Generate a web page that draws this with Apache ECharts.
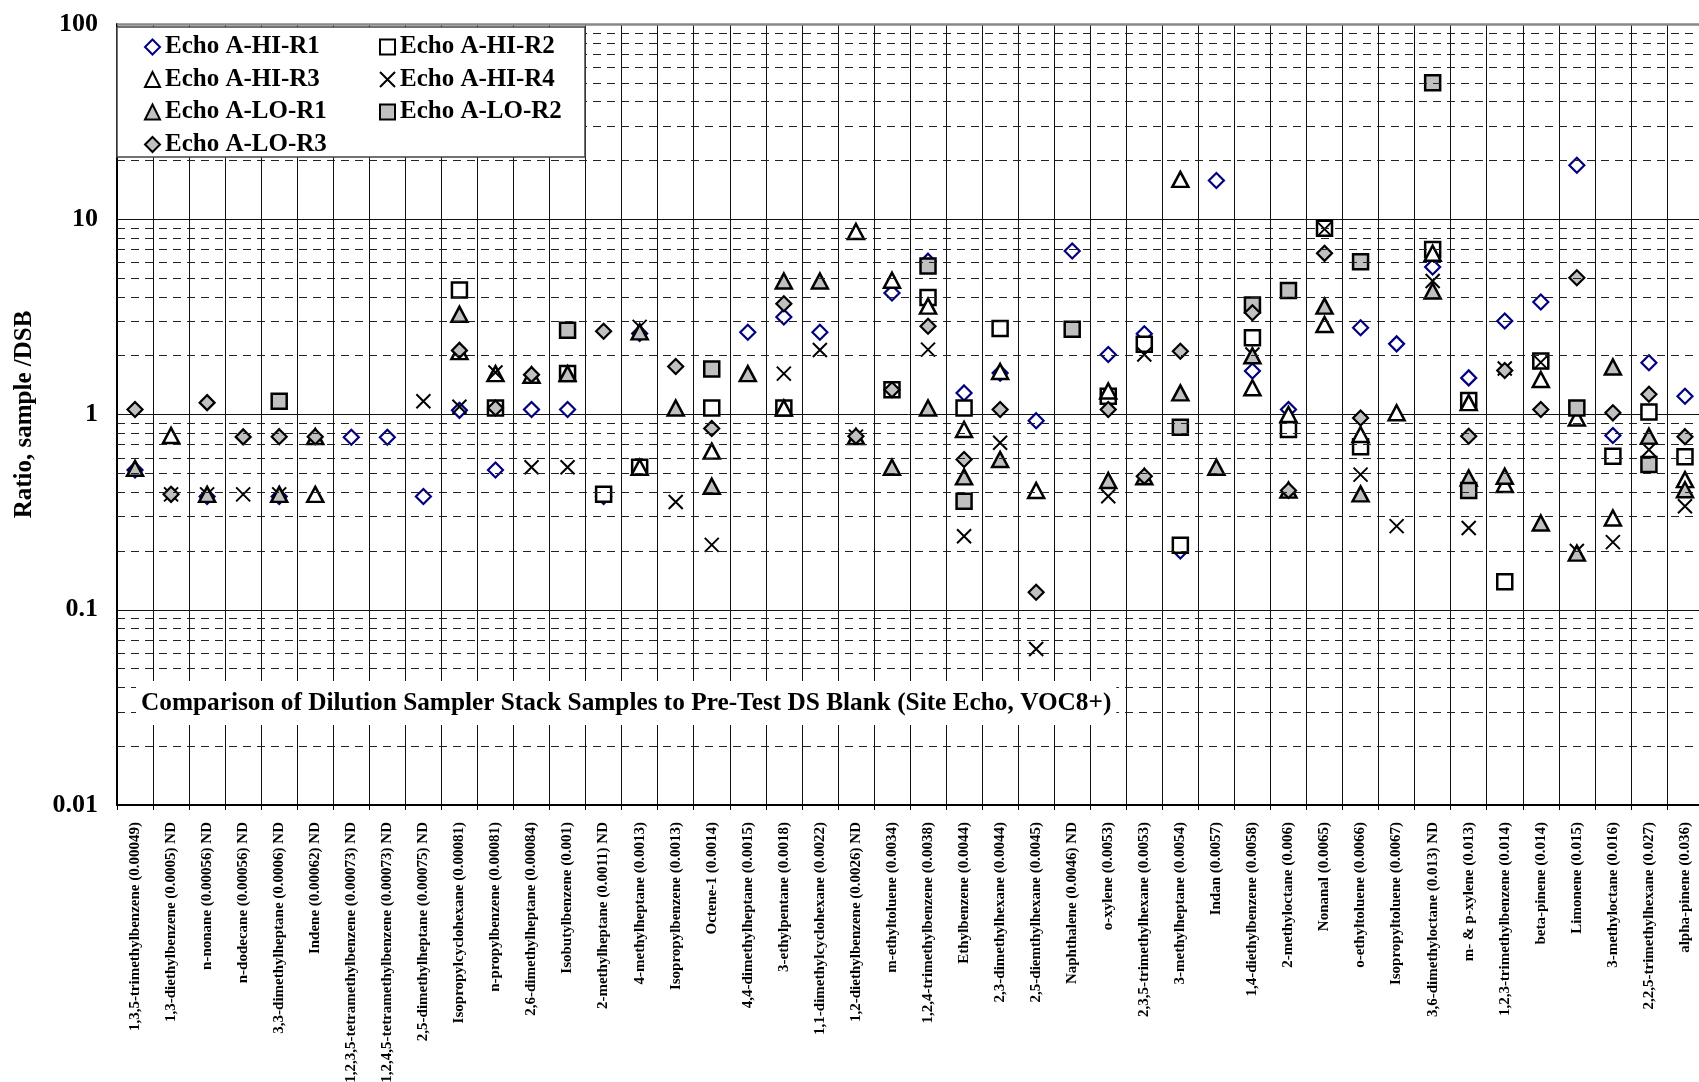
<!DOCTYPE html>
<html>
<head>
<meta charset="utf-8">
<script src="https://cdn.jsdelivr.net/npm/echarts@6/dist/echarts.min.js"></script>
<style>
  html, body { margin: 0; padding: 0; background: #fff; }
  #chart { width: 1699px; height: 1082px; }
</style>
</head>
<body>
<div id="chart"></div>
<script>
// Compounds (with their DSB concentration) along the x axis
const categories = [
  '1,3,5-trimethylbenzene (0.00049)',
  '1,3-diethylbenzene (0.0005) ND',
  'n-nonane (0.00056) ND',
  'n-dodecane (0.00056) ND',
  '3,3-dimethylheptane (0.0006) ND',
  'Indene (0.00062) ND',
  '1,2,3,5-tetramethylbenzene (0.00073) ND',
  '1,2,4,5-tetramethylbenzene (0.00073) ND',
  '2,5-dimethylheptane (0.00075) ND',
  'Isopropylcyclohexane (0.00081)',
  'n-propylbenzene (0.00081)',
  '2,6-dimethylheptane (0.00084)',
  'Isobutylbenzene (0.001)',
  '2-methylheptane (0.0011) ND',
  '4-methylheptane (0.0013)',
  'Isopropylbenzene (0.0013)',
  'Octene-1 (0.0014)',
  '4,4-dimethylheptane (0.0015)',
  '3-ethylpentane (0.0018)',
  '1,1-dimethylcyclohexane (0.0022)',
  '1,2-diethylbenzene (0.0026) ND',
  'm-ethyltoluene (0.0034)',
  '1,2,4-trimethylbenzene (0.0038)',
  'Ethylbenzene (0.0044)',
  '2,3-dimethylhexane (0.0044)',
  '2,5-diemthylhexane (0.0045)',
  'Naphthalene (0.0046) ND',
  'o-xylene (0.0053)',
  '2,3,5-trimethylhexane (0.0053)',
  '3-methylheptane (0.0054)',
  'Indan (0.0057)',
  '1,4-diethylbenzene (0.0058)',
  '2-methyloctane (0.006)',
  'Nonanal (0.0065)',
  'o-ethyltoluene (0.0066)',
  'Isopropyltoluene (0.0067)',
  '3,6-dimethyloctane (0.013) ND',
  'm- & p-xylene (0.013)',
  '1,2,3-trimethylbenzene (0.014)',
  'beta-pinene (0.014)',
  'Limonene (0.015)',
  '3-methyloctane (0.016)',
  '2,2,5-trimethylhexane (0.027)',
  'alpha-pinene (0.036)'
];

// Ratio sample / DSB for each run (null = not plotted)
const hiR1 = [0.52, null, 0.38, null, 0.38, null, 0.765, 0.765, 0.38, 1.05,
  0.52, 1.06, 1.06, 0.38, 2.6, null, null, 2.64, 3.16, 2.64,
  null, 4.19, 6.1, 1.29, 1.63, 0.93, 6.88, 2.03, 2.59, 0.2,
  15.8, 1.67, 1.06, null, 2.78, 2.3, 5.7, 1.54, 3.01, 3.77,
  18.9, 0.78, 1.84, 1.24];
const hiR2 = [null, null, null, null, null, null, null, null, null, 4.34,
  1.08, null, 1.62, 0.39, 0.537, null, 1.08, null, 1.08, null,
  null, 1.34, 3.97, 1.08, 2.76, null, null, 1.24, 2.29, 0.214,
  null, 2.47, 0.838, 9.0, 0.683, null, 7.0, 1.18, 0.139, 1.88,
  null, 0.611, 1.03, 0.607];
const hiR3 = [null, 0.78, null, null, null, 0.39, null, null, null, 2.1,
  1.62, 1.59, null, null, 0.537, null, 0.649, null, 1.08, null,
  8.65, 4.87, 3.59, 0.838, 1.66, 0.408, null, 1.32, null, 16.0,
  null, 1.37, 1.0, 2.89, 0.79, 1.02, 6.7, 1.15, 0.438, 1.51,
  0.96, 0.295, null, 0.464];
const hiR4 = [null, 0.39, 0.39, 0.39, 0.39, null, null, null, 1.17, 1.095,
  1.64, 0.537, 0.537, null, 2.81, 0.356, 0.215, null, 1.62, 2.14,
  0.77, null, 2.15, 0.238, 0.716, 0.063, null, 0.381, 2.03, null,
  null, 2.03, null, 8.9, 0.492, 0.268, 4.83, 0.262, 1.72, 1.85,
  0.2, 0.222, 0.66, 0.339];
const loR1 = [0.53, null, 0.39, null, 0.39, 0.77, null, null, null, 3.26,
  null, null, 1.62, null, 2.65, 1.08, 0.429, 1.62, 4.83, 4.83,
  0.77, 0.537, 1.08, 0.479, 0.588, null, null, 0.459, 0.48, 1.29,
  0.537, 2.0, 0.41, 3.59, 0.392, null, 4.29, 0.473, 0.483, 0.278,
  0.195, 1.75, 0.774, 0.412];
const loR2 = [null, null, null, null, 1.17, null, null, null, null, null,
  null, null, 2.70, null, null, null, 1.71, null, null, null,
  null, null, 5.76, 0.36, null, null, 2.73, null, null, 0.861,
  null, 3.64, 4.32, null, 6.06, null, 50, 0.408, null, null,
  1.08, null, 0.554, null];
const loR3 = [1.06, 0.39, 1.15, 0.768, 0.77, 0.77, null, null, null, 2.13,
  1.08, 1.60, null, 2.67, null, 1.76, 0.848, null, 3.69, null,
  0.774, 1.34, 2.83, 0.588, 1.06, 0.123, null, 1.06, 0.483, 2.11,
  null, 3.32, 0.408, 6.69, 0.96, null, null, 0.774, 1.68, 1.06,
  5.02, 1.02, 1.27, 0.77];

// Log-axis minor gridline positions (dashed)
const minorGrid = [0.02, 0.03, 0.04, 0.05, 0.06, 0.07, 0.08, 0.09,
  0.2, 0.3, 0.4, 0.5, 0.6, 0.7, 0.8, 0.9,
  2, 3, 4, 5, 6, 7, 8, 9,
  20, 30, 40, 50, 60, 70, 80, 90];

const titleText = 'Comparison of Dilution Sampler Stack Samples to Pre-Test DS Blank (Site Echo, VOC8+)';
const FONT = "'Liberation Serif', 'Times New Roman', serif";
const NAVY = '#000080';
const GRAY = '#c0c0c0';
const CROSS = 'path://M0 0L10 10M10 0L0 10';

const toData = arr => arr.map(v => (v == null ? '-' : v));

function scatter(name, data, symbol, size, fill, stroke, width) {
  return {
    name: name,
    type: 'scatter',
    data: toData(data),
    symbol: symbol,
    symbolSize: size,
    z: 3,
    itemStyle: { color: fill, borderColor: stroke, borderWidth: width, opacity: 1 },
    emphasis: { disabled: true }
  };
}

const chart = echarts.init(document.getElementById('chart'), null, { renderer: 'canvas', width: 1699, height: 1082 });

const legendText = { fontFamily: FONT, fontWeight: 'bold', fontSize: 25, color: '#000', lineHeight: 26 };

chart.setOption({
  animation: false,
  backgroundColor: '#fff',
  title: {
    text: titleText,
    left: 136,
    top: 681,
    padding: [9, 5],
    backgroundColor: '#fff',
    z: 60,
    textStyle: { fontFamily: FONT, fontWeight: 'bold', fontSize: 25.3, color: '#000', lineHeight: 26 }
  },
  graphic: [{
    type: 'rect',
    z: 50,
    shape: { x: 117, y: 27, width: 468, height: 130 },
    style: { fill: '#fff', stroke: '#444', lineWidth: 1.5 }
  }],
  legend: [
    {
      data: ['Echo A-HI-R1', 'Echo A-HI-R3', 'Echo A-LO-R1', 'Echo A-LO-R3'],
      orient: 'vertical', left: 144, top: 34, padding: 0,
      itemWidth: 15, itemHeight: 15, itemGap: 6.5, z: 60,
      selectedMode: false, textStyle: legendText
    },
    {
      data: ['Echo A-HI-R2', 'Echo A-HI-R4', 'Echo A-LO-R2'],
      orient: 'vertical', left: 379, top: 34, padding: 0,
      itemWidth: 15, itemHeight: 15, itemGap: 6.5, z: 60,
      selectedMode: false, textStyle: legendText
    }
  ],
  grid: { left: 117, right: -4, top: 24, height: 781, containLabel: false, outerBoundsMode: 'none' },
  xAxis: {
    type: 'category',
    data: categories,
    boundaryGap: true,
    axisLine: { lineStyle: { color: '#000', width: 2 } },
    axisTick: { show: true, alignWithLabel: false, length: 5, interval: 0, lineStyle: { color: '#000' } },
    splitLine: { show: true, interval: 0, lineStyle: { color: '#111', width: 1 } },
    axisLabel: {
      interval: 0, rotate: 90, margin: 17,
      fontFamily: FONT, fontWeight: 'bold', fontSize: 15, color: '#000'
    }
  },
  yAxis: {
    type: 'log',
    logBase: 10,
    min: 0.01,
    max: 100,
    interval: 1,
    name: 'Ratio, sample /DSB',
    nameLocation: 'middle',
    nameRotate: 90,
    nameGap: 80,
    nameTextStyle: { fontFamily: FONT, fontWeight: 'bold', fontSize: 25, color: '#000' },
    axisLine: { show: true, lineStyle: { color: '#000', width: 2 } },
    axisTick: { show: false },
    splitLine: { show: true, lineStyle: { color: '#111', width: 1 } },
    axisLabel: {
      margin: 19,
      fontFamily: FONT, fontWeight: 'bold', fontSize: 26, color: '#000',
      formatter: v => String(v)
    }
  },
  series: [
    {
      name: 'minor grid',
      type: 'scatter',
      data: [],
      z: 1,
      silent: true,
      markLine: {
        silent: true,
        symbol: ['none', 'none'],
        label: { show: false },
        animation: false,
        lineStyle: { color: '#222', width: 1, type: [8, 6] },
        data: minorGrid.map(v => ({ yAxis: v }))
          .concat([{ yAxis: 100, lineStyle: { color: '#888', width: 2.5, type: 'solid' } }])
      }
    },
    scatter('Echo A-HI-R1', hiR1, 'diamond', 15, '#fff', NAVY, 2.2),
    scatter('Echo A-HI-R2', hiR2, 'rect', 15, '#fff', '#000', 2.5),
    scatter('Echo A-HI-R3', hiR3, 'triangle', [16, 15], '#fff', '#000', 2.5),
    scatter('Echo A-HI-R4', hiR4, CROSS, 14, 'rgba(0,0,0,0)', '#000', 2),
    scatter('Echo A-LO-R1', loR1, 'triangle', [16, 15], GRAY, '#000', 2.5),
    scatter('Echo A-LO-R2', loR2, 'rect', 15, GRAY, '#000', 2.5),
    scatter('Echo A-LO-R3', loR3, 'diamond', 15, GRAY, '#000', 2.2)
  ]
});
</script>
</body>
</html>
